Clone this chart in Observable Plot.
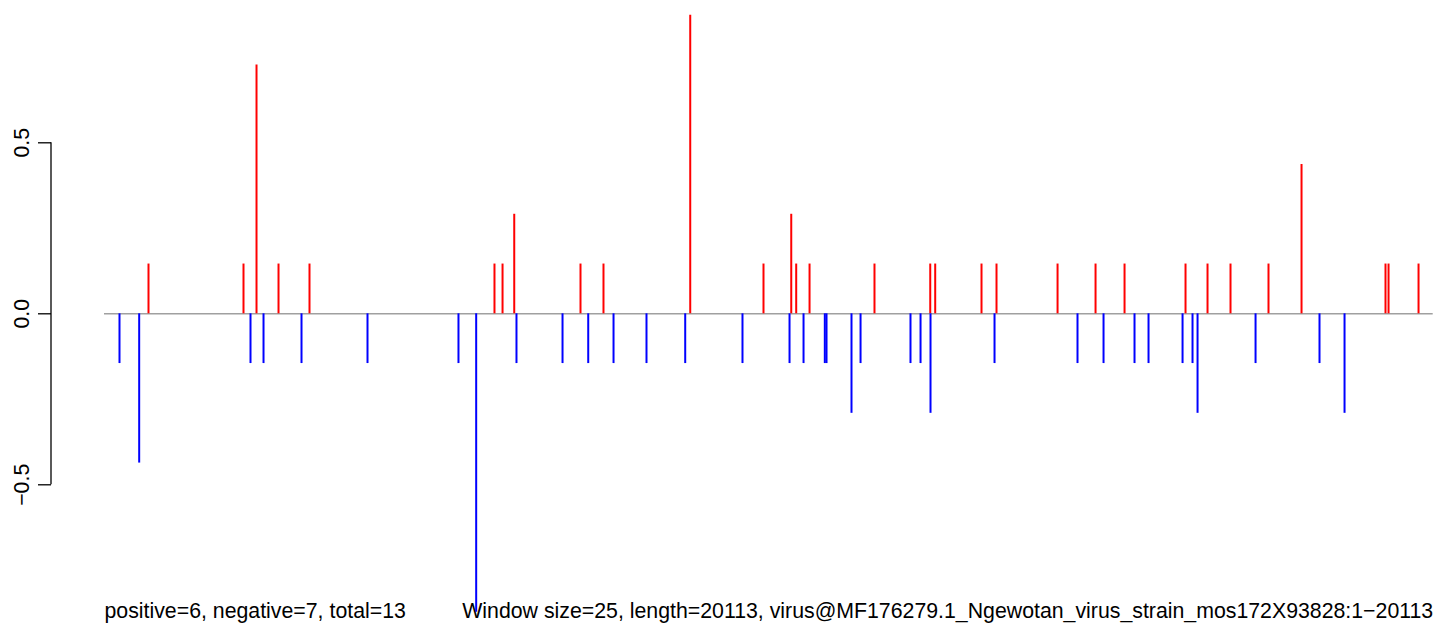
<!DOCTYPE html>
<html>
<head>
<meta charset="utf-8">
<script src="https://cdn.jsdelivr.net/npm/d3@7"></script>
<script src="https://cdn.jsdelivr.net/npm/@observablehq/plot@0.6"></script>
<style>
  html, body { margin: 0; padding: 0; background: #fff; }
  #chart svg { display: block; }
</style>
</head>
<body>
<div id="chart"></div>
<script>
// ---- data ----
const seqStart = 1;
const seqLength = 20113;

const posPositions = [667, 2105, 2302, 2635, 3104, 5904, 6026, 6203, 7206, 7554, 8867, 9976, 10396, 10471, 10673, 11656, 12500, 12575, 13276, 13503, 14427, 15002, 15441, 16364, 16697, 17045, 17620, 18120, 19391, 19437, 19891];
const posValues    = [0.1455, 0.1455, 0.7275, 0.1455, 0.1455, 0.1455, 0.1455, 0.291, 0.1455, 0.1455, 0.873, 0.1455, 0.291, 0.1455, 0.1455, 0.1455, 0.1455, 0.1455, 0.1455, 0.1455, 0.1455, 0.1455, 0.1455, 0.1455, 0.1455, 0.1455, 0.1455, 0.4365, 0.1455, 0.1455, 0.1455];

const negPositions = [228, 526, 2211, 2408, 2983, 3982, 5359, 5627, 6237, 6934, 7323, 7706, 8205, 8791, 9658, 10370, 10582, 10904, 10930, 11308, 11445, 12201, 12353, 12504, 13473, 14729, 15123, 15592, 15804, 16319, 16470, 16546, 17424, 18392, 18771];
const negValues    = [-0.1455, -0.4365, -0.1455, -0.1455, -0.1455, -0.1455, -0.1455, -0.873, -0.1455, -0.1455, -0.1455, -0.1455, -0.1455, -0.1455, -0.1455, -0.1455, -0.1455, -0.1455, -0.1455, -0.291, -0.1455, -0.1455, -0.1455, -0.291, -0.1455, -0.1455, -0.1455, -0.1455, -0.1455, -0.1455, -0.1455, -0.291, -0.1455, -0.1455, -0.291];

const yTicks = [-0.5, 0.0, 0.5];
const yTickLabels = ["\u22120.5", "0.0", "0.5"];

const leftText = "positive=6, negative=7, total=13";
const rightText = "Window size=25, length=20113, virus@MF176279.1_Ngewotan_virus_strain_mos172X93828:1\u221220113";

// ---- tables ----
const pos = posPositions.map((p, i) => ({pos: p, value: posValues[i]}));
const neg = negPositions.map((p, i) => ({pos: p, value: negValues[i]}));

const font = "'Liberation Sans', Arial, Helvetica, sans-serif";

const plot = Plot.plot({
  width: 1444,
  height: 634,
  marginLeft: 51,
  marginRight: 11,
  marginTop: 0,
  marginBottom: 17,
  style: {fontFamily: font, fontSize: "21.3px", color: "#000", background: "#fff"},
  x: {domain: [seqStart, seqLength], range: [104, 1432.7], axis: null},
  y: {domain: [-0.5, 0.5], range: [484.3, 142.3]},
  marks: [
    Plot.ruleY([0], {x1: seqStart, x2: seqLength, stroke: "#a0a0a0", strokeWidth: 1.4}),
    Plot.ruleX(pos, {x: "pos", y1: 0, y2: "value", stroke: "#ff0000", strokeWidth: 2}),
    Plot.ruleX(neg, {x: "pos", y1: 0, y2: "value", stroke: "#0000ff", strokeWidth: 2}),
    Plot.axisY({
      ticks: yTicks,
      tickFormat: (d) => yTickLabels[yTicks.indexOf(d)],
      tickSize: 13,
      tickRotate: -90,
      tickPadding: 10,
      label: null,
      stroke: "#000",
      strokeWidth: 1.3,
      fill: "#000"
    }),
    Plot.text([leftText], {x: [seqStart], frameAnchor: "bottom", textAnchor: "start", lineAnchor: "bottom", fill: "#000", text: d => d}),
    Plot.text([rightText], {x: [seqLength], frameAnchor: "bottom", textAnchor: "end", lineAnchor: "bottom", fill: "#000", text: d => d})
  ]
});

// axis line spanning the tick range, as in base R graphics
const ys = plot.scale("y");
d3.select(plot).append("line")
  .attr("x1", 51).attr("x2", 51)
  .attr("y1", ys.apply(yTicks[0]))
  .attr("y2", ys.apply(yTicks[yTicks.length - 1]))
  .attr("stroke", "#000")
  .attr("stroke-width", 1.3);

document.getElementById("chart").appendChild(plot);
</script>
</body>
</html>
